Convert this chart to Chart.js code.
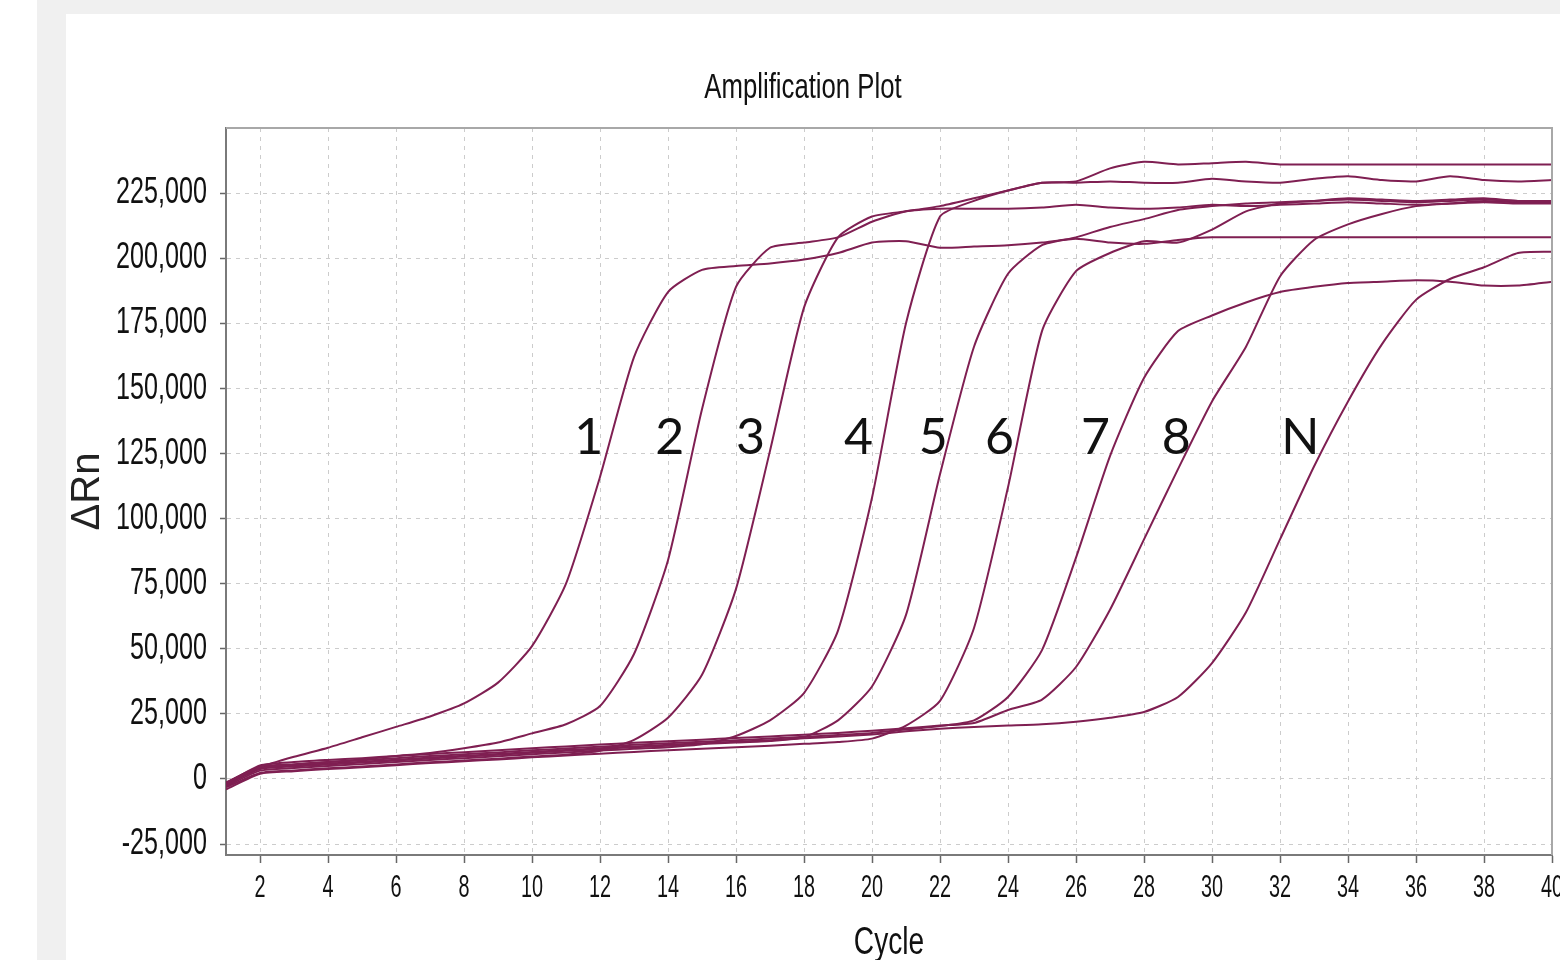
<!doctype html>
<html lang="en">
<head>
<meta charset="utf-8">
<title>Amplification Plot</title>
<script src="https://cdn.jsdelivr.net/npm/chart.js@4.4.1/dist/chart.umd.min.js"></script>
<style>
  html, body { margin: 0; padding: 0; background: #fff; }
  body { width: 1560px; height: 960px; position: relative; overflow: hidden; }
  #frame { position: absolute; left: 37px; top: 0; right: 0; bottom: 0; background: #f0f0f0; }
  #panel { position: absolute; left: 66px; top: 14px; right: 0; bottom: 0; background: #fff; }
  #wrap { position: absolute; left: 54px; top: 0; width: 1506px; height: 960px; }
</style>
</head>
<body>
<div id="frame"></div>
<div id="panel"></div>
<div id="wrap"><canvas id="myChart" width="1506" height="960"></canvas></div>
<script>
  const cycles = [1, 2, 3, 4, 5, 6, 7, 8, 9, 10, 11, 12, 13, 14, 15, 16, 17, 18, 19, 20,
                  21, 22, 23, 24, 25, 26, 27, 28, 29, 30, 31, 32, 33, 34, 35, 36, 37, 38, 39, 40];

  // delta Rn per cycle, one array per well
  const well1 = [-1500, 4500, 8500, 12000, 16000, 20000, 24000, 29000, 37000, 51000,
                 75000, 116000, 162000, 187000, 195500, 197000, 198000, 199500, 202000, 206000,
                 206500, 204000, 204500, 205000, 206000, 207500, 206000, 205500, 207000, 208000,
                 208000, 208000, 208000, 208000, 208000, 208000, 208000, 208000, 208000, 208000];
  const well2 = [-2000, 4200, 5500, 6500, 7500, 8800, 10000, 11800, 14000, 17500,
                 21000, 28000, 48000, 84000, 142000, 189000, 204000, 206000, 208000, 214000,
                 218000, 219000, 219000, 219000, 219500, 220500, 219500, 219000, 219500, 220500,
                 220000, 220500, 221000, 221500, 221000, 220500, 221000, 221500, 221000, 221000];
  const well3 = [-3200, 2300, 3300, 4100, 4800, 5600, 6400, 7100, 7800, 8600,
                 9300, 10800, 15000, 23500, 40000, 73000, 126000, 181000, 208000, 216000,
                 218000, 220000, 223000, 226000, 229000, 229000, 229500, 229000, 229000, 230500,
                 229500, 229000, 230500, 231500, 230000, 229500, 231500, 230000, 229500, 230000];
  const well4 = [-2800, 3200, 4200, 5000, 5700, 6500, 7300, 8000, 8700, 9500,
                 10200, 10900, 11600, 12200, 13300, 16500, 22500, 33000, 57000, 108000,
                 175000, 216000, 222000, 226000, 229000, 229500, 234500, 237000, 236000, 236500,
                 237000, 236000, 236000, 236000, 236000, 236000, 236000, 236000, 236000, 236000];
  const well5 = [-2200, 3800, 4800, 5600, 6300, 7100, 7900, 8600, 9300, 10100,
                 10800, 11500, 12200, 12800, 13400, 14000, 14600, 16000, 22500, 35500,
                 63000, 117000, 166000, 194000, 205000, 208000, 212000, 215000, 218500, 220000,
                 221000, 221500, 222000, 222500, 222000, 221500, 222000, 222500, 222000, 222000];
  const well6 = [-4000, 2000, 3000, 3800, 4500, 5300, 6100, 6800, 7500, 8300,
                 9000, 9700, 10400, 11000, 11600, 12200, 12800, 13500, 14200, 15500,
                 20500, 30000, 58000, 112000, 172000, 195000, 202000, 206500, 206000, 211000,
                 218000, 221000, 222000, 223000, 222500, 222000, 222500, 223000, 222000, 222000];
  const well7 = [-1300, 4700, 5700, 6500, 7200, 8000, 8800, 9500, 10200, 11000,
                 11700, 12400, 13100, 13700, 14300, 14900, 15500, 16200, 16900, 17700,
                 19000, 20300, 22500, 31500, 49500, 85000, 124000, 154000, 172000, 178000,
                 183000, 187000, 189000, 190500, 191000, 191500, 191000, 189500, 189500, 191000];
  const well8 = [-1800, 5200, 6500, 7300, 8000, 8800, 9600, 10300, 11000, 11800,
                 12500, 13200, 13900, 14500, 15100, 15700, 16300, 17000, 17700, 18500,
                 19500, 20500, 21500, 26500, 30500, 43000, 65000, 92000, 119000, 145000,
                 166000, 193000, 207000, 213000, 217000, 220000, 221000, 222000, 221500, 221500];
  const wellN = [-2000, 4100, 5100, 5900, 6600, 7400, 8200, 8900, 9600, 10400,
                 11100, 11800, 12500, 13100, 13700, 14300, 14900, 15600, 16300, 17100,
                 18300, 19300, 20000, 20500, 21000, 22000, 23500, 25700, 31500, 44500,
                 64000, 92000, 120000, 145000, 167000, 184000, 192000, 196500, 202000, 202500];

  const wells = [well1, well2, well3, well4, well5, well6, well7, well8, wellN];

  // curve labels written inside the plot
  const labelTexts = ['1', '2', '3', '4', '5', '6', '7', '8', 'N'];
  const labelCycles = [11.67, 14.05, 16.43, 19.6, 21.8, 23.75, 26.57, 28.95, 32.6];
  const labelLevel = 131000;

  const xTicks = [2, 4, 6, 8, 10, 12, 14, 16, 18, 20, 22, 24, 26, 28, 30, 32, 34, 36, 38, 40];
  const yTicks = [-25000, 0, 25000, 50000, 75000, 100000, 125000, 150000, 175000, 200000, 225000];

  const sans = "'Liberation Sans', Arial, sans-serif";

  // the source screenshot has narrow, squeezed lettering: draw it scaled horizontally
  function squashText(ctx, text, x, y, size, sx, align) {
    ctx.save();
    ctx.font = size + 'px ' + sans;
    ctx.fillStyle = '#111';
    ctx.textAlign = align;
    ctx.textBaseline = 'middle';
    ctx.translate(x, y);
    ctx.scale(sx, 1);
    ctx.fillText(text, 0, 0);
    ctx.restore();
  }

  const axisText = {
    id: 'axisText',
    afterDraw(chart) {
      const { ctx, chartArea: a, scales } = chart;
      squashText(ctx, 'Amplification Plot', a.right / 2, 88, 35, 0.735, 'center');
      yTicks.forEach(v => {
        squashText(ctx, v.toLocaleString('en-US'), a.left - 19, scales.y.getPixelForValue(v), 37, 0.68, 'right');
      });
      xTicks.forEach(v => {
        squashText(ctx, String(v), scales.x.getPixelForValue(v), a.bottom + 33, 31, 0.64, 'center');
      });
      squashText(ctx, 'Cycle', (a.left + a.right) / 2, a.bottom + 89, 38, 0.74, 'center');
    }
  };

  const curveLabels = {
    id: 'curveLabels',
    afterDatasetsDraw(chart) {
      const { ctx, scales } = chart;
      ctx.save();
      ctx.font = '50px Lato, "Open Sans", sans-serif';
      ctx.fillStyle = '#111';
      ctx.textAlign = 'center';
      ctx.textBaseline = 'middle';
      labelTexts.forEach((t, i) => {
        ctx.fillText(t, scales.x.getPixelForValue(labelCycles[i]), scales.y.getPixelForValue(labelLevel));
      });
      ctx.restore();
    }
  };

  // top and right edges of the plot box
  const plotFrame = {
    id: 'plotFrame',
    afterDraw(chart) {
      const { ctx, chartArea: a } = chart;
      ctx.save();
      ctx.strokeStyle = '#a8a8a8';
      ctx.lineWidth = 2;
      ctx.beginPath();
      ctx.moveTo(a.left, a.top);
      ctx.lineTo(a.right, a.top);
      ctx.lineTo(a.right, a.bottom);
      ctx.stroke();
      ctx.restore();
    }
  };

  new Chart(document.getElementById('myChart'), {
    type: 'line',
    data: {
      datasets: wells.map(w => ({
        data: w.map((v, i) => ({ x: cycles[i], y: v })),
        borderColor: '#7f1f52',
        borderWidth: 2,
        pointRadius: 0,
        tension: 0.2,
        fill: false
      }))
    },
    options: {
      responsive: false,
      animation: false,
      layout: { padding: { left: 0, right: 8, top: 128, bottom: 0 } },
      plugins: {
        legend: { display: false },
        tooltip: { enabled: false },
        title: { display: false }
      },
      scales: {
        x: {
          type: 'linear',
          min: 1,
          max: 40,
          afterBuildTicks: s => { s.ticks = xTicks.map(v => ({ value: v })); },
          afterFit: s => { s.height = 105; },
          ticks: { display: false },
          grid: { color: '#cccccc', lineWidth: 1, tickLength: 8, tickColor: '#666', tickWidth: 1.5 },
          border: { color: '#7a7a7a', width: 2, dash: [4, 5] }
        },
        y: {
          min: -29200,
          max: 250000,
          afterBuildTicks: s => { s.ticks = yTicks.map(v => ({ value: v })); },
          afterFit: s => { s.width = 172; },
          ticks: { display: false },
          grid: { color: '#cccccc', lineWidth: 1, tickLength: 6, tickColor: '#666', tickWidth: 1.5 },
          border: { color: '#7a7a7a', width: 2, dash: [4, 5] },
          title: {
            display: true,
            text: 'ΔRn',
            color: '#222',
            font: { family: sans, size: 40, lineHeight: 1 },
            padding: { top: 14, bottom: 0 }
          }
        }
      }
    },
    plugins: [curveLabels, plotFrame, axisText]
  });
</script>
</body>
</html>
